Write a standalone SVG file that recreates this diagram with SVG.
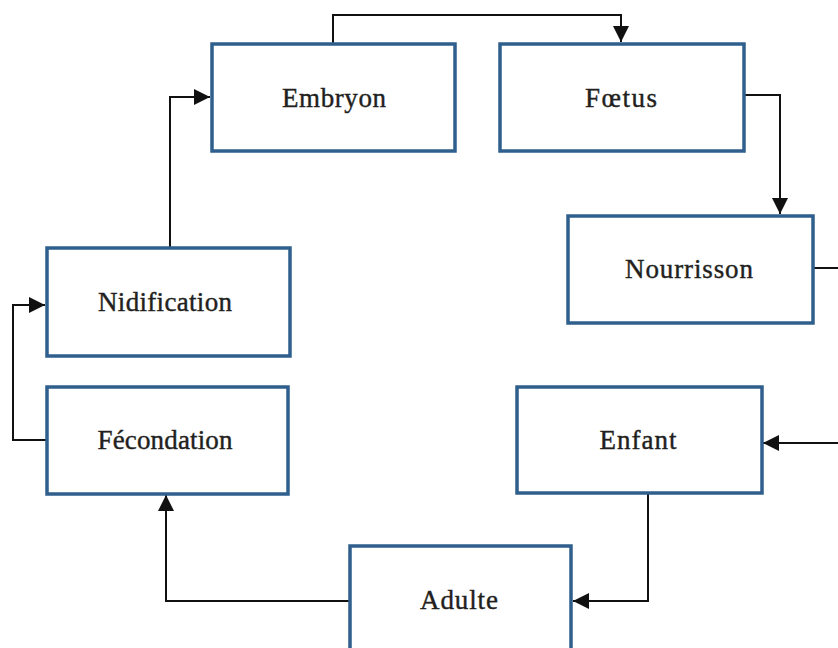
<svg xmlns="http://www.w3.org/2000/svg" width="838" height="648" viewBox="0 0 838 648">
<defs>
<style>
.box{fill:#ffffff;stroke:#2f5f8c;stroke-width:3.5}
.lbl{font-family:"Liberation Serif","Times New Roman",serif;font-size:27px;fill:#231f20;stroke:#231f20;stroke-width:0.4;text-anchor:middle}
.con{fill:none;stroke:#111111;stroke-width:2}
</style>
<marker id="arr" viewBox="0 0 16 16" refX="16" refY="8" markerWidth="16" markerHeight="16" markerUnits="userSpaceOnUse" orient="auto">
<path d="M0,0 L16,8 L0,16 Z" fill="#111111"/>
</marker>
</defs>
<rect width="838" height="648" fill="#ffffff"/>
<g id="connectors">
<path class="con" d="M333,44 V15 H621 V42" marker-end="url(#arr)"/>
<path class="con" d="M745,95 H780 V214" marker-end="url(#arr)"/>
<path class="con" d="M813,268 H850 V443 H763" marker-end="url(#arr)"/>
<path class="con" d="M648,493 V601 H573" marker-end="url(#arr)"/>
<path class="con" d="M350,601 H166 V495" marker-end="url(#arr)"/>
<path class="con" d="M47,440 H13 V305 H45" marker-end="url(#arr)"/>
<path class="con" d="M170,248 V97 H210" marker-end="url(#arr)"/>
</g>
<g id="embryon">
<rect class="box" x="212" y="44" width="243" height="107"/>
<text class="lbl" x="334" y="107" textLength="104" lengthAdjust="spacing">Embryon</text>
</g>
<g id="foetus">
<rect class="box" x="500" y="44" width="244" height="107"/>
<text class="lbl" x="621" y="107" textLength="72" lengthAdjust="spacing">Fœtus</text>
</g>
<g id="nourrisson">
<rect class="box" x="568" y="216" width="245" height="107"/>
<text class="lbl" x="689" y="278" textLength="128" lengthAdjust="spacing">Nourrisson</text>
</g>
<g id="nidification">
<rect class="box" x="47" y="248" width="243" height="108"/>
<text class="lbl" x="165" y="311" textLength="134" lengthAdjust="spacing">Nidification</text>
</g>
<g id="fecondation">
<rect class="box" x="47" y="387" width="241" height="107"/>
<text class="lbl" x="165" y="449" textLength="135" lengthAdjust="spacing">Fécondation</text>
</g>
<g id="enfant">
<rect class="box" x="517" y="387" width="245" height="106"/>
<text class="lbl" x="638" y="449" textLength="77" lengthAdjust="spacing">Enfant</text>
</g>
<g id="adulte">
<rect class="box" x="350" y="546" width="221" height="120"/>
<text class="lbl" x="459" y="609" textLength="78" lengthAdjust="spacing">Adulte</text>
</g>
</svg>
